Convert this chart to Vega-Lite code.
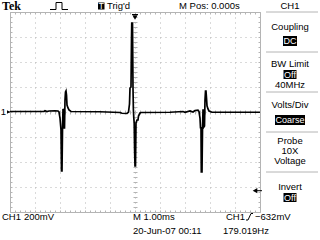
{
  "$schema": "https://vega.github.io/schema/vega-lite/v6.json",
  "width": 250,
  "height": 200,
  "autosize": {"type": "none"},
  "padding": {"left": 10, "top": 12, "right": 60, "bottom": 28},
  "background": "white",
  "config": {
    "view": {"stroke": "#b4b4b4", "strokeWidth": 1},
    "font": "Liberation Sans",
    "text": {"font": "Liberation Sans", "fontSize": 9.5}
  },
  "resolve": {"axis": {"x": "independent", "y": "independent"}},
  "datasets": {
    "trace": [
      {"t": -5.00, "d": 0.02}, {"t": -3.64, "d": 0.02}, {"t": -3.60, "d": 0.05}, {"t": -3.52, "d": 0.02},
      {"t": -3.44, "d": 0.04}, {"t": -3.20, "d": 0.05}, {"t": -3.08, "d": 0.04}, {"t": -3.04, "d": 0.00},
      {"t": -3.00, "d": -0.24}, {"t": -2.96, "d": -0.72}, {"t": -2.94, "d": -2.36}, {"t": -2.92, "d": -2.36},
      {"t": -2.90, "d": -0.72}, {"t": -2.88, "d": 0.12}, {"t": -2.86, "d": 0.08}, {"t": -2.84, "d": -0.64},
      {"t": -2.82, "d": -0.64}, {"t": -2.80, "d": 0.48}, {"t": -2.78, "d": 0.80}, {"t": -2.76, "d": 0.84},
      {"t": -2.74, "d": 0.68}, {"t": -2.72, "d": 0.28}, {"t": -2.68, "d": 0.16}, {"t": -2.64, "d": 0.08},
      {"t": -2.56, "d": 0.02}, {"t": -1.40, "d": 0.01}, {"t": -0.60, "d": -0.02}, {"t": -0.52, "d": -0.05},
      {"t": -0.32, "d": -0.06}, {"t": -0.26, "d": 0.00}, {"t": -0.24, "d": 0.16}, {"t": -0.22, "d": 0.32},
      {"t": -0.20, "d": 0.96}, {"t": -0.16, "d": 1.00}, {"t": -0.14, "d": 2.88}, {"t": -0.13, "d": 3.56},
      {"t": -0.10, "d": 3.56}, {"t": -0.08, "d": 0.96}, {"t": -0.064, "d": 0.08}, {"t": -0.048, "d": -0.24},
      {"t": -0.032, "d": -0.44}, {"t": -0.016, "d": -1.52}, {"t": 0.00, "d": -2.16}, {"t": 0.02, "d": -2.16},
      {"t": 0.04, "d": -0.44}, {"t": 0.08, "d": -0.32}, {"t": 0.12, "d": -0.32}, {"t": 0.14, "d": -0.16},
      {"t": 0.16, "d": -0.12}, {"t": 0.20, "d": -0.04}, {"t": 0.24, "d": -0.02}, {"t": 1.40, "d": -0.01},
      {"t": 1.92, "d": 0.02}, {"t": 2.00, "d": -0.01}, {"t": 2.20, "d": 0.04}, {"t": 2.32, "d": 0.00},
      {"t": 2.40, "d": 0.06}, {"t": 2.52, "d": 0.07}, {"t": 2.56, "d": 0.02}, {"t": 2.60, "d": -0.24},
      {"t": 2.62, "d": -0.63}, {"t": 2.64, "d": -0.63}, {"t": 2.652, "d": -2.40}, {"t": 2.68, "d": -2.40},
      {"t": 2.70, "d": -0.72}, {"t": 2.72, "d": 0.08}, {"t": 2.74, "d": 0.08}, {"t": 2.76, "d": -0.59},
      {"t": 2.78, "d": -0.56}, {"t": 2.80, "d": 0.48}, {"t": 2.82, "d": 0.84}, {"t": 2.84, "d": 0.84},
      {"t": 2.86, "d": 0.56}, {"t": 2.88, "d": 0.25}, {"t": 2.92, "d": 0.12}, {"t": 2.96, "d": 0.04},
      {"t": 3.08, "d": -0.01}, {"t": 5.00, "d": -0.01}
    ],
    "panelLines": [
      {"x1": 5.24, "x2": 7.32, "d": 4.0},
      {"x1": 5.24, "x2": 7.32, "d": 2.4},
      {"x1": 5.24, "x2": 7.32, "d": 0.8},
      {"x1": 5.24, "x2": 7.32, "d": -0.8},
      {"x1": 5.24, "x2": 7.32, "d": -2.4}
    ],
    "leftTexts": [
      {"t": -1.12, "d": 4.24, "label": "Trig'd"},
      {"t": 1.76, "d": 4.24, "label": "M Pos: 0.000s"},
      {"t": -5.32, "d": -4.2, "label": "CH1"},
      {"t": -4.44, "d": -4.2, "label": "200mV"},
      {"t": -0.08, "d": -4.2, "label": "M 1.00ms"},
      {"t": 3.64, "d": -4.2, "label": "CH1"},
      {"t": 4.8, "d": -4.2, "label": "−632mV"},
      {"t": -0.08, "d": -4.76, "label": "20-Jun-07 00:11"},
      {"t": 3.52, "d": -4.76, "label": "179.019Hz"},
      {"t": -5.37, "d": 0.0, "label": "1"}
    ],
    "icons": [
      {"g": "pulse", "o": 1, "t": -3.4, "d": 4.1},
      {"g": "pulse", "o": 2, "t": -3.16, "d": 4.1},
      {"g": "pulse", "o": 3, "t": -3.16, "d": 4.38},
      {"g": "pulse", "o": 4, "t": -2.92, "d": 4.38},
      {"g": "pulse", "o": 5, "t": -2.92, "d": 4.1},
      {"g": "pulse", "o": 6, "t": -2.68, "d": 4.1},
      {"g": "trigbar", "o": 1, "t": -0.12, "d": 3.9},
      {"g": "trigbar", "o": 2, "t": 0.12, "d": 3.9},
      {"g": "level", "o": 1, "t": 4.88, "d": -3.148},
      {"g": "level", "o": 2, "t": 5.08, "d": -3.148},
      {"g": "marker1", "o": 1, "t": -5.12, "d": 0.0},
      {"g": "marker1", "o": 2, "t": -5.0, "d": 0.0},
      {"g": "edge", "o": 1, "t": 4.44, "d": -4.32},
      {"g": "edge", "o": 2, "t": 4.52, "d": -4.32},
      {"g": "edge", "o": 3, "t": 4.64, "d": -4.06},
      {"g": "edge", "o": 4, "t": 4.72, "d": -4.06}
    ],
    "boxes": [
      {"x1": -1.48, "x2": -1.22, "y1": 4.38, "y2": 4.10},
      {"x1": 5.92, "x2": 6.48, "y1": 3.04, "y2": 2.64},
      {"x1": 5.94, "x2": 6.46, "y1": 1.68, "y2": 1.32},
      {"x1": 5.6, "x2": 6.8, "y1": -0.12, "y2": -0.52},
      {"x1": 5.94, "x2": 6.46, "y1": -3.24, "y2": -3.6}
    ],
    "panelTexts": [
      {"t": 6.2, "d": 4.24, "label": "CH1"},
      {"t": 6.2, "d": 3.4, "label": "Coupling"},
      {"t": 6.2, "d": 1.92, "label": "BW Limit"},
      {"t": 6.2, "d": 1.1, "label": "40MHz"},
      {"t": 6.2, "d": 0.28, "label": "Volts/Div"},
      {"t": 6.2, "d": -1.16, "label": "Probe"},
      {"t": 6.2, "d": -1.56, "label": "10X"},
      {"t": 6.2, "d": -1.96, "label": "Voltage"},
      {"t": 6.2, "d": -3.0, "label": "Invert"}
    ],
    "whiteTexts": [
      {"t": -1.35, "d": 4.24, "label": "T"},
      {"t": 6.2, "d": 2.84, "label": "DC"},
      {"t": 6.2, "d": 1.5, "label": "Off"},
      {"t": 6.2, "d": -0.32, "label": "Coarse"},
      {"t": 6.2, "d": -3.42, "label": "Off"}
    ],
    "markers": [
      {"t": 0.0, "d": 3.78, "shape": "triangle-down"},
      {"t": 4.8, "d": -3.148, "shape": "triangle-left"}
    ],
    "markersSmall": [
      {"t": -5.06, "d": 0.0, "shape": "triangle-right"}
    ],
    "logo": [
      {"t": -5.32, "d": 4.24, "label": "Tek"}
    ]
  },
  "layer": [
    {
      "data": {"name": "trace"},
      "mark": {"type": "line", "color": "black", "strokeWidth": 1.7, "clip": false},
      "encoding": {
        "x": {"field": "t", "type": "quantitative", "scale": {"domain": [-5, 5], "nice": false, "zero": false},
          "axis": {"orient": "bottom", "values": [-5, -4, -3, -2, -1, 0, 1, 2, 3, 4, 5], "grid": true, "gridDash": [1, 4], "gridColor": "#b4b4b4", "gridOpacity": 1, "ticks": false, "labels": false, "domain": false, "title": null}},
        "y": {"field": "d", "type": "quantitative", "scale": {"domain": [-4, 4], "nice": false, "zero": false},
          "axis": {"orient": "left", "values": [-4, -3, -2, -1, 0, 1, 2, 3, 4], "grid": true, "gridDash": [1, 4], "gridColor": "#b4b4b4", "gridOpacity": 1, "ticks": false, "labels": false, "domain": false, "title": null}}
      }
    },
    {
      "data": {"name": "panelLines"},
      "mark": {"type": "rule", "color": "#b4b4b4", "strokeWidth": 1, "clip": false},
      "encoding": {
        "x": {"field": "x1", "type": "quantitative", "scale": {"domain": [-5, 5], "nice": false, "zero": false},
          "axis": {"orient": "top", "tickCount": 50, "tickSize": -2, "tickColor": "#b4b4b4", "labels": false, "domain": false, "grid": false, "title": null}},
        "x2": {"field": "x2"},
        "y": {"field": "d", "type": "quantitative", "scale": {"domain": [-4, 4], "nice": false, "zero": false},
          "axis": {"orient": "right", "tickCount": 40, "tickSize": -2, "tickColor": "#b4b4b4", "labels": false, "domain": false, "grid": false, "title": null}}
      }
    },
    {
      "data": {"name": "leftTexts"},
      "mark": {"type": "text", "align": "left", "baseline": "middle", "color": "black", "font": "Liberation Sans", "fontSize": 9.5, "clip": false},
      "encoding": {
        "x": {"field": "t", "type": "quantitative", "scale": {"domain": [-5, 5], "nice": false, "zero": false},
          "axis": {"orient": "bottom", "tickCount": 50, "tickSize": -2, "tickColor": "#b4b4b4", "labels": false, "domain": false, "grid": false, "title": null}},
        "y": {"field": "d", "type": "quantitative", "scale": {"domain": [-4, 4], "nice": false, "zero": false},
          "axis": {"orient": "left", "tickCount": 40, "tickSize": -2, "tickColor": "#b4b4b4", "labels": false, "domain": false, "grid": false, "title": null}},
        "text": {"field": "label", "type": "nominal"}
      }
    },
    {
      "data": {"name": "icons"},
      "mark": {"type": "line", "color": "black", "strokeWidth": 1, "clip": false},
      "encoding": {
        "x": {"field": "t", "type": "quantitative", "scale": {"domain": [-5, 5], "nice": false, "zero": false},
          "axis": {"orient": "bottom", "offset": -102, "tickCount": 50, "tickSize": 4, "tickColor": "#b4b4b4", "labels": false, "domain": false, "grid": false, "title": null}},
        "y": {"field": "d", "type": "quantitative", "scale": {"domain": [-4, 4], "nice": false, "zero": false},
          "axis": {"orient": "left", "offset": -127, "tickCount": 40, "tickSize": 4, "tickColor": "#b4b4b4", "labels": false, "domain": false, "grid": false, "title": null}},
        "detail": {"field": "g", "type": "nominal"},
        "order": {"field": "o", "type": "quantitative"}
      }
    },
    {
      "data": {"name": "boxes"},
      "mark": {"type": "rect", "color": "black", "clip": false},
      "encoding": {
        "x": {"field": "x1", "type": "quantitative", "scale": {"domain": [-5, 5], "nice": false, "zero": false}, "axis": null},
        "x2": {"field": "x2"},
        "y": {"field": "y1", "type": "quantitative", "scale": {"domain": [-4, 4], "nice": false, "zero": false}, "axis": null},
        "y2": {"field": "y2"}
      }
    },
    {
      "data": {"name": "panelTexts"},
      "mark": {"type": "text", "align": "center", "baseline": "middle", "color": "black", "font": "Liberation Sans", "fontSize": 9.5, "clip": false},
      "encoding": {
        "x": {"field": "t", "type": "quantitative", "scale": {"domain": [-5, 5], "nice": false, "zero": false}, "axis": null},
        "y": {"field": "d", "type": "quantitative", "scale": {"domain": [-4, 4], "nice": false, "zero": false}, "axis": null},
        "text": {"field": "label", "type": "nominal"}
      }
    },
    {
      "data": {"name": "whiteTexts"},
      "mark": {"type": "text", "align": "center", "baseline": "middle", "color": "white", "font": "Liberation Sans", "fontSize": 9, "clip": false},
      "encoding": {
        "x": {"field": "t", "type": "quantitative", "scale": {"domain": [-5, 5], "nice": false, "zero": false}, "axis": null},
        "y": {"field": "d", "type": "quantitative", "scale": {"domain": [-4, 4], "nice": false, "zero": false}, "axis": null},
        "text": {"field": "label", "type": "nominal"}
      }
    },
    {
      "data": {"name": "markers"},
      "mark": {"type": "point", "filled": true, "color": "black", "size": 28, "opacity": 1, "clip": false},
      "encoding": {
        "x": {"field": "t", "type": "quantitative", "scale": {"domain": [-5, 5], "nice": false, "zero": false}, "axis": null},
        "y": {"field": "d", "type": "quantitative", "scale": {"domain": [-4, 4], "nice": false, "zero": false}, "axis": null},
        "shape": {"field": "shape", "type": "nominal", "scale": null, "legend": null}
      }
    },
    {
      "data": {"name": "markersSmall"},
      "mark": {"type": "point", "filled": true, "color": "black", "size": 12, "opacity": 1, "clip": false},
      "encoding": {
        "x": {"field": "t", "type": "quantitative", "scale": {"domain": [-5, 5], "nice": false, "zero": false}, "axis": null},
        "y": {"field": "d", "type": "quantitative", "scale": {"domain": [-4, 4], "nice": false, "zero": false}, "axis": null},
        "shape": {"field": "shape", "type": "nominal", "scale": null, "legend": null}
      }
    },
    {
      "data": {"name": "logo"},
      "mark": {"type": "text", "align": "left", "baseline": "middle", "color": "black", "font": "Liberation Serif", "fontSize": 12, "fontWeight": "bold", "clip": false},
      "encoding": {
        "x": {"field": "t", "type": "quantitative", "scale": {"domain": [-5, 5], "nice": false, "zero": false}, "axis": null},
        "y": {"field": "d", "type": "quantitative", "scale": {"domain": [-4, 4], "nice": false, "zero": false}, "axis": null},
        "text": {"field": "label", "type": "nominal"}
      }
    }
  ]
}
